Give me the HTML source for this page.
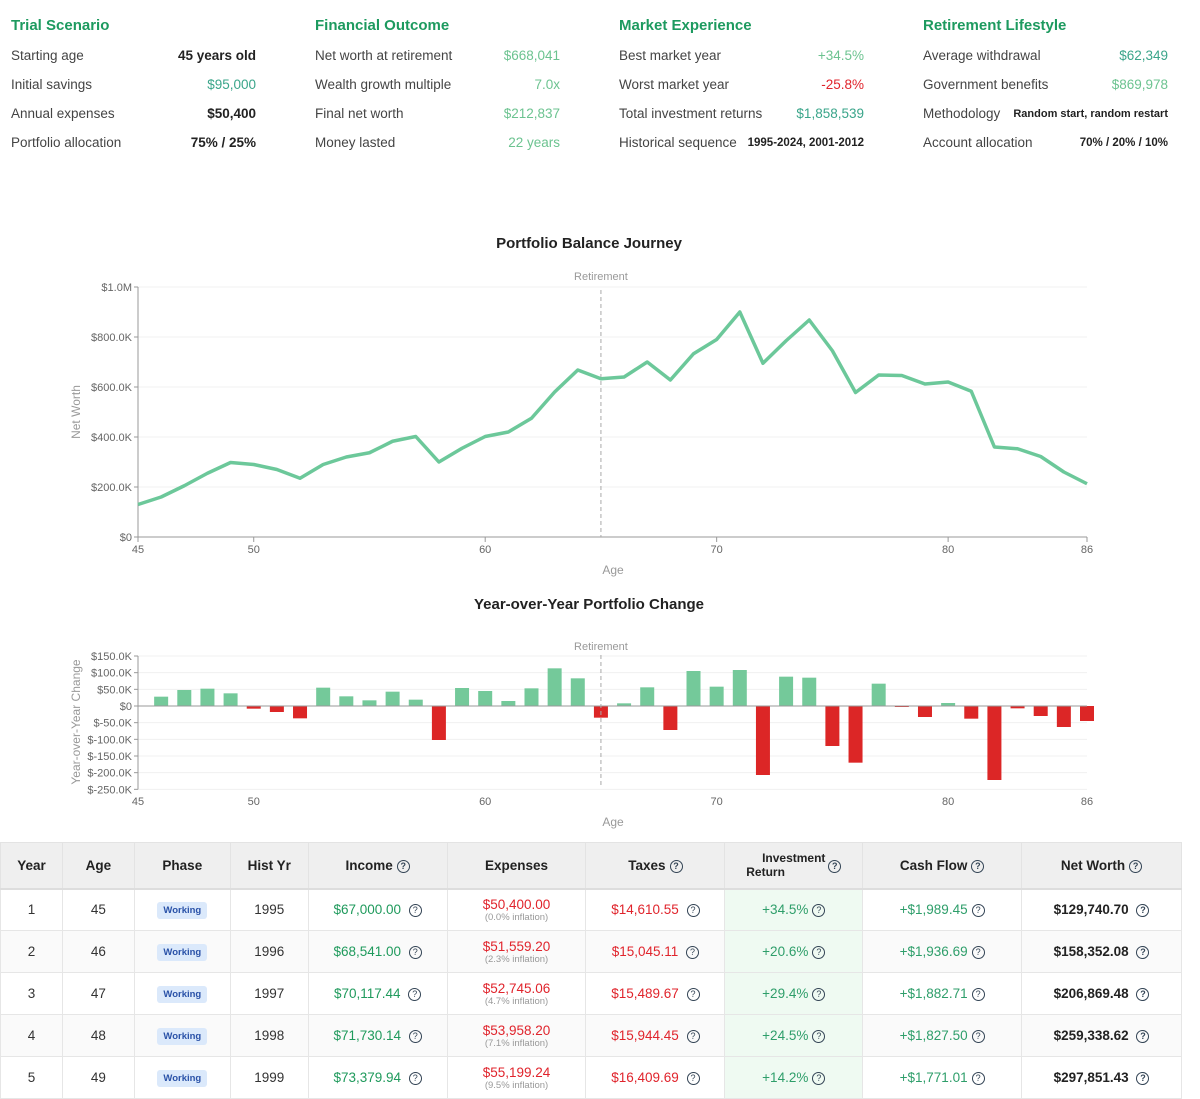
<!DOCTYPE html>
<html><head><meta charset="utf-8">
<style>
*{box-sizing:border-box;margin:0;padding:0}
body{width:1200px;height:1098px;overflow:hidden;background:#fff;font-family:"Liberation Sans",sans-serif;color:#333;position:relative}
.col{position:absolute;top:14px;width:245px}
.col h3{font-size:15px;font-weight:bold;color:#1d9a5f;height:27px;line-height:24px}
.row{display:flex;justify-content:space-between;align-items:center;height:29px;font-size:13.5px;color:#444}
.row b{font-weight:bold;color:#222}
.g1{color:#6cc390}.g2{color:#3aa58a}.rd{color:#e0242c}
svg text{font-family:"Liberation Sans",sans-serif}
table{position:absolute;left:0;top:842px;width:1182px;border-collapse:collapse;font-size:13.5px}
th{background:#efefef;height:46px;font-weight:bold;color:#222;border:1px solid #e3e3e3;border-bottom:2px solid #ddd}
td{height:42px;text-align:center;border:1px solid #e6e6e6;color:#333}
tr:nth-child(even) td{background:#fafafa}
td.inv{background:#effaf2 !important;color:#2e9e6a}
.q{display:inline-block;width:13px;height:13px;border:1.3px solid #345;border-radius:50%;font-size:9px;line-height:11px;text-align:center;color:#345;margin-left:4px;vertical-align:middle}
.badge{display:inline-block;background:#dbe9fb;color:#2a52a8;font-size:9.5px;padding:3px 6px;border-radius:3px;font-weight:bold}
.sub{display:block;font-size:9.5px;color:#999}
</style></head><body>
<div class="col" style="left:11px">
<h3>Trial Scenario</h3>
<div class="row"><span>Starting age</span><b>45 years old</b></div>
<div class="row"><span>Initial savings</span><span class="g2">$95,000</span></div>
<div class="row"><span>Annual expenses</span><b>$50,400</b></div>
<div class="row"><span>Portfolio allocation</span><b>75% / 25%</b></div>
</div>
<div class="col" style="left:315px">
<h3>Financial Outcome</h3>
<div class="row"><span>Net worth at retirement</span><span class="g1">$668,041</span></div>
<div class="row"><span>Wealth growth multiple</span><span class="g1">7.0x</span></div>
<div class="row"><span>Final net worth</span><span class="g1">$212,837</span></div>
<div class="row"><span>Money lasted</span><span class="g1">22 years</span></div>
</div>
<div class="col" style="left:619px">
<h3>Market Experience</h3>
<div class="row"><span>Best market year</span><span class="g1">+34.5%</span></div>
<div class="row"><span>Worst market year</span><span class="rd">-25.8%</span></div>
<div class="row"><span>Total investment returns</span><span class="g2">$1,858,539</span></div>
<div class="row"><span>Historical sequence</span><b style="font-size:11.5px">1995-2024, 2001-2012</b></div>
</div>
<div class="col" style="left:923px">
<h3>Retirement Lifestyle</h3>
<div class="row"><span>Average withdrawal</span><span class="g2">$62,349</span></div>
<div class="row"><span>Government benefits</span><span class="g1">$869,978</span></div>
<div class="row"><span>Methodology</span><b style="font-size:11px">Random start, random restart</b></div>
<div class="row"><span>Account allocation</span><b style="font-size:11.5px">70% / 20% / 10%</b></div>
</div>

<svg id="charts" width="1200" height="840" style="position:absolute;left:0;top:0"></svg>

<table>
<colgroup><col style="width:62px"><col style="width:72px"><col style="width:96px"><col style="width:78px"><col style="width:139px"><col style="width:139px"><col style="width:139px"><col style="width:138px"><col style="width:159px"><col style="width:160px"></colgroup>
<thead><tr>
<th>Year</th><th>Age</th><th>Phase</th><th>Hist Yr</th><th>Income<span class="q">?</span></th><th>Expenses</th><th>Taxes<span class="q">?</span></th><th style="font-size:12px;line-height:14px">Investment<br>Return <span class="q" style="margin-left:40px;margin-top:-14px">?</span></th><th>Cash Flow<span class="q">?</span></th><th>Net Worth<span class="q">?</span></th>
</tr></thead>
<tbody id="tb"></tbody>
</table>

<script>
const ages=[45,46,47,48,49,50,51,52,53,54,55,56,57,58,59,60,61,62,63,64,65,66,67,68,69,70,71,72,73,74,75,76,77,78,79,80,81,82,83,84,85,86];
const netWorth=[130,160,205,255,298,290,270,235,290,320,337,383,402,300,355,402,420,475,580,668,633,640,700,628,733,790,900,695,785,868,745,578,648,646,612,620,583,360,353,322,260,213];
const changeAges=[46,47,48,49,50,51,52,53,54,55,56,57,58,59,60,61,62,63,64,65,66,67,68,69,70,71,72,73,74,75,76,77,78,79,80,81,82,83,84,85,86];
const changes=[28,48,52,38,-8,-18,-37,55,29,17,43,19,-102,54,45,15,53,113,83,-35,8,56,-72,105,58,108,-207,88,85,-120,-170,67,-3,-33,9,-38,-222,-7,-30,-63,-45];
const xTicks=[45,50,60,70,80,86];
const lineTicks=[0,200,400,600,800,1000];
const lineTickLabels=["$0","$200.0K","$400.0K","$600.0K","$800.0K","$1.0M"];
const barTicks=[150,100,50,0,-50,-100,-150,-200,-250];
const barTickLabels=["$150.0K","$100.0K","$50.0K","$0","$-50.0K","$-100.0K","$-150.0K","$-200.0K","$-250.0K"];
const retireAge=65;

const svg=document.getElementById('charts');
const NS="http://www.w3.org/2000/svg";
function el(t,a,txt){const e=document.createElementNS(NS,t);for(const k in a)e.setAttribute(k,a[k]);if(txt!=null)e.textContent=txt;svg.appendChild(e);return e;}
const X0=138,X1=1087;
const sx=a=>X0+(a-45)/(86-45)*(X1-X0);
const ly=v=>537-v/1000*250;
let t=el('text',{x:589,y:248,'text-anchor':'middle','font-size':15,'font-weight':'bold',fill:'#222'},'Portfolio Balance Journey');

lineTicks.forEach((v,i)=>{
 if(v>0)el('line',{x1:X0,x2:X1,y1:ly(v),y2:ly(v),stroke:'#f0f0f0'});
 el('line',{x1:X0-4,x2:X0,y1:ly(v),y2:ly(v),stroke:'#999'});
 const e=el('text',{x:X0-6,y:ly(v)+4,'text-anchor':'end','font-size':11,fill:'#666'},lineTickLabels[i]);
 
});
el('line',{x1:X0,x2:X0,y1:287,y2:537,stroke:'#999'});
el('line',{x1:X0,x2:X1,y1:537,y2:537,stroke:'#999'});
xTicks.forEach(a=>{el('line',{x1:sx(a),x2:sx(a),y1:537,y2:542,stroke:'#999'});
 const e=el('text',{x:sx(a),y:553,'text-anchor':'middle','font-size':11,fill:'#666'},a);
 });
t=el('text',{x:613,y:574,'text-anchor':'middle','font-size':12,fill:'#999'},'Age');

t=el('text',{x:80,y:412,'text-anchor':'middle','font-size':12,fill:'#999',transform:'rotate(-90 80 412)'},'Net Worth');

el('line',{x1:sx(retireAge),x2:sx(retireAge),y1:290,y2:537,stroke:'#aaa','stroke-dasharray':'4,3'});
el('text',{x:sx(retireAge),y:280,'text-anchor':'middle','font-size':11,fill:'#999'},'Retirement');
const p=el('polyline',{points:ages.map((a,i)=>sx(a)+','+ly(netWorth[i])).join(' '),fill:'none',stroke:'#6cc89a','stroke-width':3.5,'stroke-linejoin':'round'});

const by=v=>706-v/150*50;
t=el('text',{x:589,y:609,'text-anchor':'middle','font-size':15,'font-weight':'bold',fill:'#222'},'Year-over-Year Portfolio Change');

barTicks.forEach((v,i)=>{
 el('line',{x1:X0,x2:X1,y1:by(v),y2:by(v),stroke:'#f0f0f0'});
 el('line',{x1:X0-4,x2:X0,y1:by(v),y2:by(v),stroke:'#999'});
 const e=el('text',{x:X0-6,y:by(v)+4,'text-anchor':'end','font-size':11,fill:'#666'},barTickLabels[i]);
 
});
el('line',{x1:X0,x2:X0,y1:by(150),y2:by(-250),stroke:'#999'});
xTicks.forEach(a=>{const e=el('text',{x:sx(a),y:805,'text-anchor':'middle','font-size':11,fill:'#666'},a);
 });
el('text',{x:613,y:826,'text-anchor':'middle','font-size':12,fill:'#999'},'Age');
t=el('text',{x:80,y:722,'text-anchor':'middle','font-size':12,fill:'#999',transform:'rotate(-90 80 722)'},'Year-over-Year Change');

changeAges.forEach((a,i)=>{const v=changes[i];
 const r=el('rect',{x:sx(a)-7,y:Math.min(by(v),by(0)),width:14,height:Math.abs(by(v)-by(0)),fill:v>=0?'#74c99a':'#dc2626'});
 });
el('line',{x1:X0,x2:X1,y1:by(0),y2:by(0),stroke:'#999'});
el('line',{x1:sx(retireAge),x2:sx(retireAge),y1:655,y2:788,stroke:'#aaa','stroke-dasharray':'4,3'});
el('text',{x:sx(retireAge),y:650,'text-anchor':'middle','font-size':11,fill:'#999'},'Retirement');
const rows=[
[1,45,1995,'$67,000.00','$50,400.00','0.0','$14,610.55','+34.5%','+$1,989.45','$129,740.70'],
[2,46,1996,'$68,541.00','$51,559.20','2.3','$15,045.11','+20.6%','+$1,936.69','$158,352.08'],
[3,47,1997,'$70,117.44','$52,745.06','4.7','$15,489.67','+29.4%','+$1,882.71','$206,869.48'],
[4,48,1998,'$71,730.14','$53,958.20','7.1','$15,944.45','+24.5%','+$1,827.50','$259,338.62'],
[5,49,1999,'$73,379.94','$55,199.24','9.5','$16,409.69','+14.2%','+$1,771.01','$297,851.43']];
const q='<span class="q">?</span>';
const tb=document.getElementById('tb');
rows.forEach(r=>{const tr=document.createElement('tr');
 
 
 tr.innerHTML=`<td>${r[0]}</td><td>${r[1]}</td><td><span class="badge">Working</span></td><td>${r[2]}</td><td style="color:#1f9a5c">${r[3]} ${q}</td><td><span style="color:#e0242c;line-height:13px">${r[4]}</span><span class="sub">(${r[5]}% inflation)</span></td><td style="color:#e0242c">${r[6]} ${q}</td><td class="inv">${r[7]}${q}</td><td style="color:#2e9e6a">${r[8]}${q}</td><td style="font-weight:bold;color:#222">${r[9]} ${q}</td>`;
 tb.appendChild(tr);});
</script>
</body></html>
